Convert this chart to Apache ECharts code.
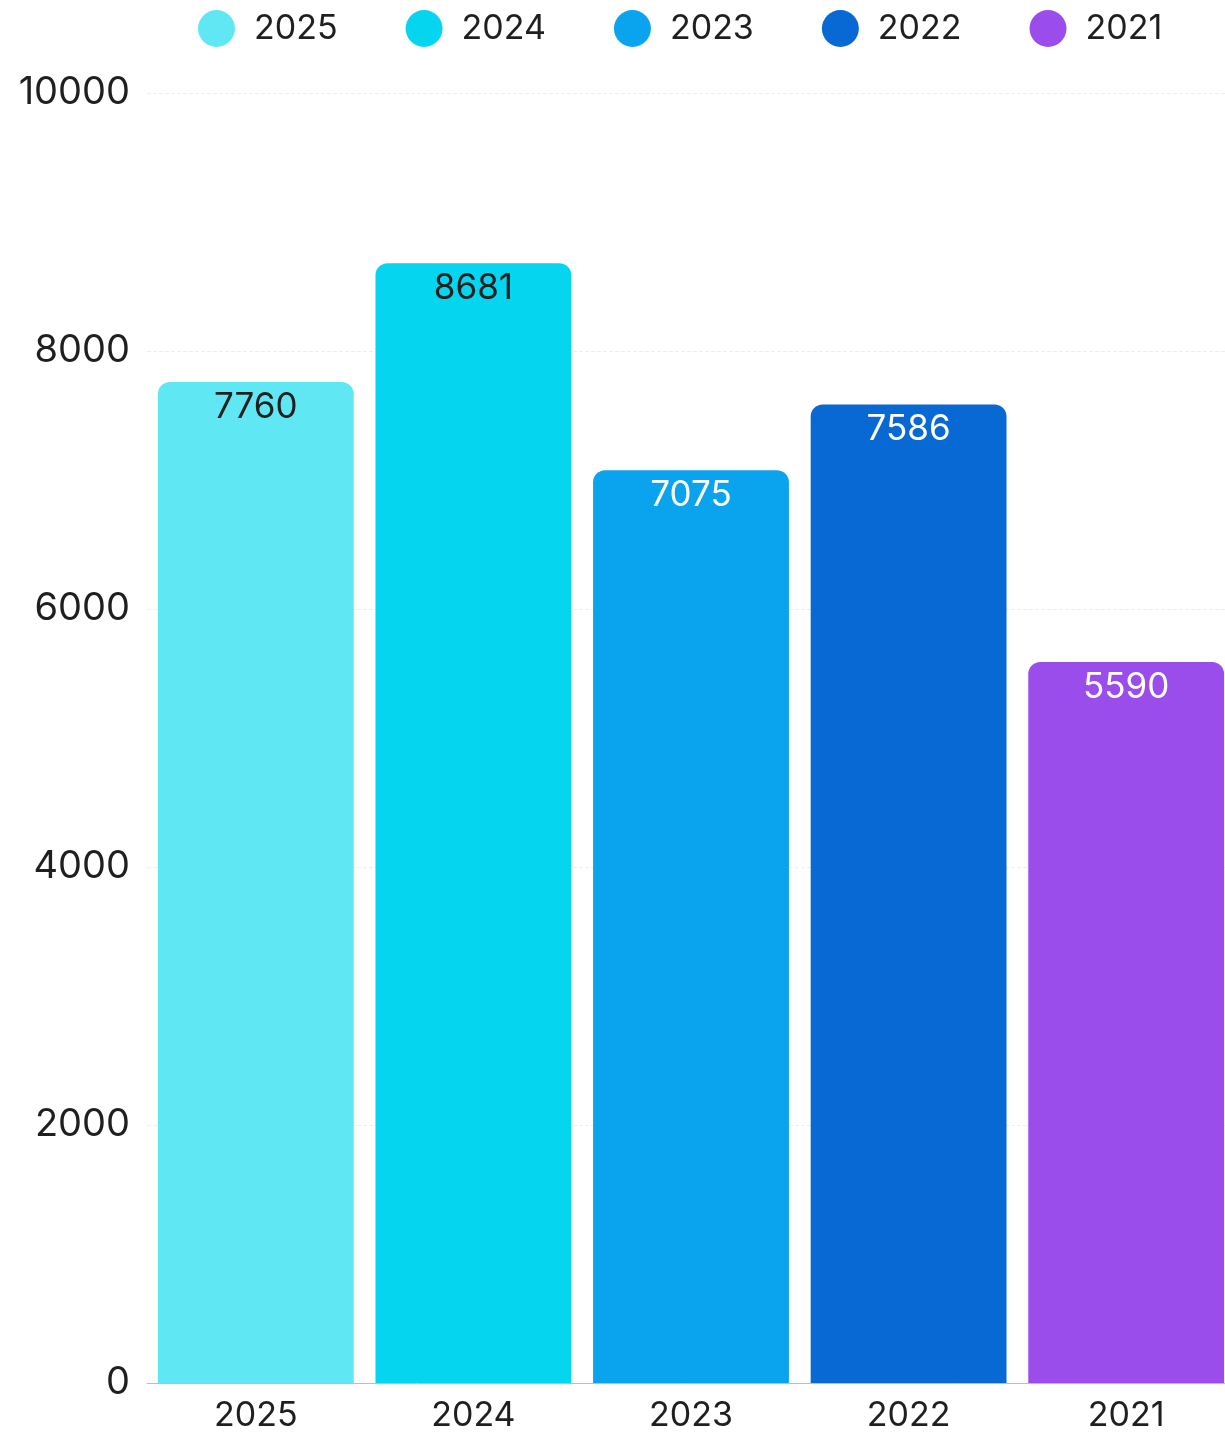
<!DOCTYPE html>
<html>
<head>
<meta charset="utf-8">
<script src="https://cdn.jsdelivr.net/npm/echarts@6/dist/echarts.min.js"></script>
<style>html,body{margin:0;padding:0;background:#fff}#c{width:1225px;height:1444px}</style>
</head>
<body>
<div id="c"></div>
<script>
var categories = ['2025', '2024', '2023', '2022', '2021'];
var values = [7760, 8681, 7075, 7586, 5590];
var seriesNames = ['2025', '2024', '2023', '2022', '2021'];
var colors = ['#5fe8f3', '#06d5ef', '#0aa3ee', '#0869d4', '#9b4deb'];
var labelColors = ['#1f1f1f', '#1f1f1f', '#ffffff', '#ffffff', '#ffffff'];
var yTicks = [0, 2000, 4000, 6000, 8000, 10000];

var chart = echarts.init(document.getElementById('c'));
var series = seriesNames.map(function (name, i) {
  var d = categories.map(function (c, j) { return j === i ? values[j] : null; });
  return {
    name: name,
    type: 'bar',
    stack: 'all',
    data: d,
    barWidth: '90%',
    itemStyle: { color: colors[i], borderRadius: [12, 12, 0, 0] },
    label: {
      show: true,
      position: 'insideTop',
      distance: 8,
      color: labelColors[i],
      fontSize: 35,
      fontFamily: 'Inter'
    }
  };
});

chart.setOption({
  animation: false,
  backgroundColor: '#ffffff',
  textStyle: { fontFamily: 'Inter' },
  legend: {
    data: seriesNames,
    top: 5,
    left: 193,
    icon: 'circle',
    itemWidth: 37,
    itemHeight: 37,
    itemGap: 68,
    textStyle: { fontSize: 34, color: '#1f1f1f', fontFamily: 'Inter', padding: [0, 0, 0, 14] }
  },
  grid: { left: 147, width: 1088, top: 93, bottom: 61, containLabel: false, outerBoundsMode: 'none' },
  xAxis: {
    type: 'category',
    data: categories,
    axisTick: { show: false },
    axisLine: { show: true, lineStyle: { color: '#bdbdbd', width: 1 } },
    axisLabel: { fontSize: 34, color: '#1f1f1f', margin: 16, fontFamily: 'Inter' }
  },
  yAxis: {
    type: 'value',
    min: yTicks[0],
    max: yTicks[yTicks.length - 1],
    interval: 2000,
    axisLine: { show: false },
    axisTick: { show: false },
    axisLabel: {
      fontSize: 38, color: '#1f1f1f', margin: 17, fontFamily: 'Inter',
      formatter: function (v) { return String(v); }
    },
    splitLine: { show: true, lineStyle: { color: '#eeeeee', type: 'dashed', width: 1 } }
  },
  series: series
});
</script>
</body>
</html>
